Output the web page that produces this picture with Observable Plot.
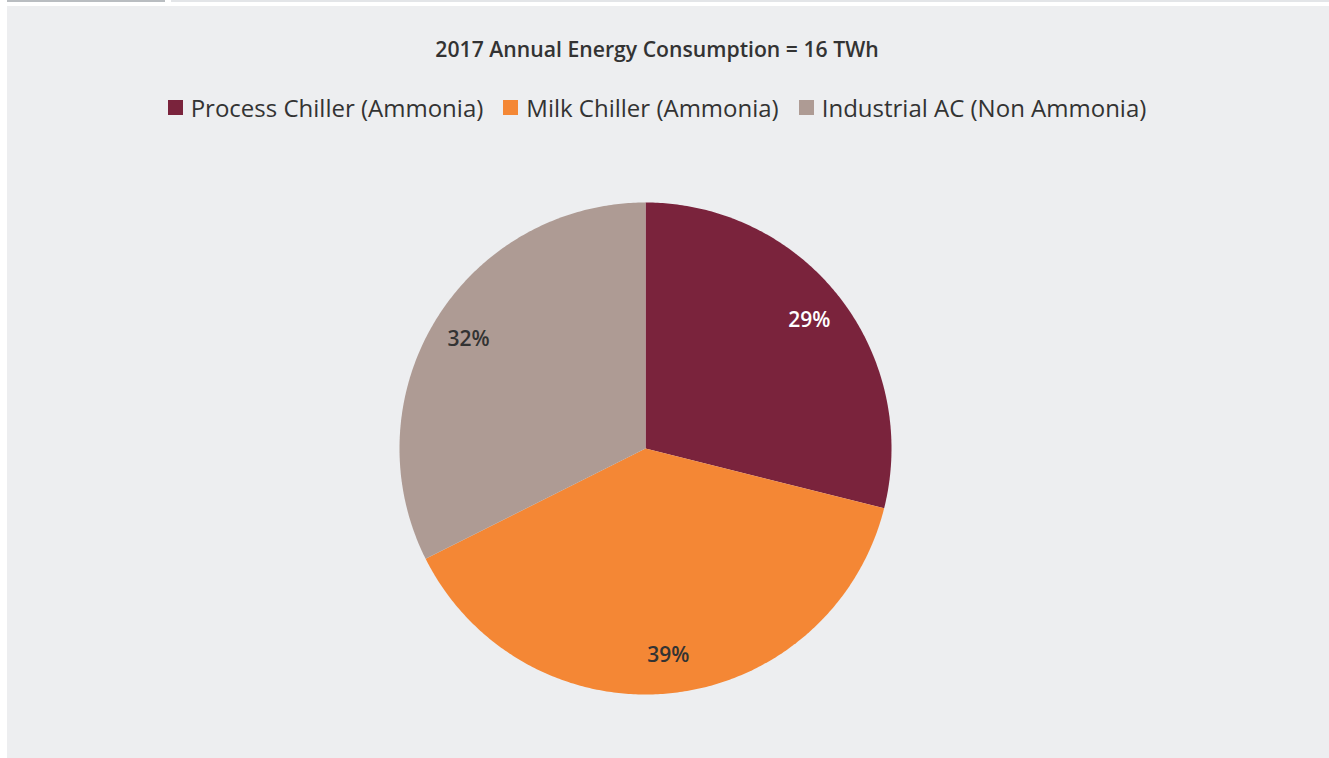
<!DOCTYPE html>
<html><head><meta charset="utf-8">
<script src="https://cdn.jsdelivr.net/npm/d3@7"></script>
<script src="https://cdn.jsdelivr.net/npm/@observablehq/plot@0.6"></script>
<style>
html,body{margin:0;padding:0;background:#fff;width:1329px;height:758px;overflow:hidden;font-family:"Open Sans",sans-serif;}
#topline1{position:absolute;left:7px;top:0;width:158px;height:2px;background:#b9bdc1;}
#topline2{position:absolute;left:171px;top:0;width:1158px;height:2px;background:#e3e5e8;}
#panel{position:absolute;left:7px;top:6px;width:1322px;height:752px;background:#edeef0;}
#title{position:absolute;left:0;width:1300px;top:28px;text-align:center;font-weight:600;font-size:21.2px;color:#333;}
#legend{position:absolute;left:0;width:1300px;top:85px;display:flex;justify-content:center;}
#legend .lg-swatch{margin-right:20px !important;}
#legend .lg-swatch:last-child{margin-right:0 !important;}
#legend .lg-swatch > svg{margin-right:8px !important;}
#chart{position:absolute;left:378px;top:182px;}
</style></head>
<body>
<div id="topline1"></div><div id="topline2"></div>
<div id="panel">
  <div id="title">2017 Annual Energy Consumption = 16 TWh</div>
  <div id="legend"></div>
  <div id="chart"></div>
</div>
<script>
const categories = ["Process Chiller (Ammonia)", "Milk Chiller (Ammonia)", "Industrial AC (Non Ammonia)"];
const values = [28.9, 38.7, 32.4];
const labels = ["29%", "39%", "32%"];
const colors = ["#7a233c", "#f48735", "#ae9b94"];
const labelColors = ["#ffffff", "#333333", "#333333"];

const total = d3.sum(values);
const pts = [];
const labs = [];
let cum = 0;
categories.forEach((c, i) => {
  const a0 = cum / total * 2 * Math.PI;
  cum += values[i];
  const a1 = cum / total * 2 * Math.PI;
  const n = Math.max(2, Math.ceil((a1 - a0) / 0.01));
  pts.push({category: c, x: 0, y: 0});
  for (let k = 0; k <= n; k++) {
    const a = a0 + (a1 - a0) * k / n;
    pts.push({category: c, x: Math.sin(a), y: Math.cos(a)});
  }
  pts.push({category: c, x: 0, y: 0});
  const am = (a0 + a1) / 2;
  labs.push({category: c, label: labels[i], color: labelColors[i], x: 0.845 * Math.sin(am), y: 0.845 * Math.cos(am)});
});

const colorScale = {domain: categories, range: colors};

const chart = Plot.plot({
  width: 520, height: 520,
  margin: 14,
  x: {domain: [-1, 1], axis: null},
  y: {domain: [-1, 1], axis: null},
  color: colorScale,
  style: {background: "transparent", fontFamily: "Open Sans"},
  marks: [
    Plot.line(pts, {x: "x", y: "y", z: "category", fill: "category", stroke: null}),
    Plot.text(labs, {x: "x", y: "y", text: "label", fill: d => d.color, fontSize: 21, fontWeight: 600})
  ]
});
document.getElementById("chart").appendChild(chart);

const leg = Plot.legend({
  color: colorScale,
  legend: "swatches",
  swatchSize: 15,
  className: "lg",
  style: {fontFamily: "Open Sans", fontSize: "24px", color: "#333", background: "transparent"}
});
document.getElementById("legend").appendChild(leg);
</script>
</body></html>
